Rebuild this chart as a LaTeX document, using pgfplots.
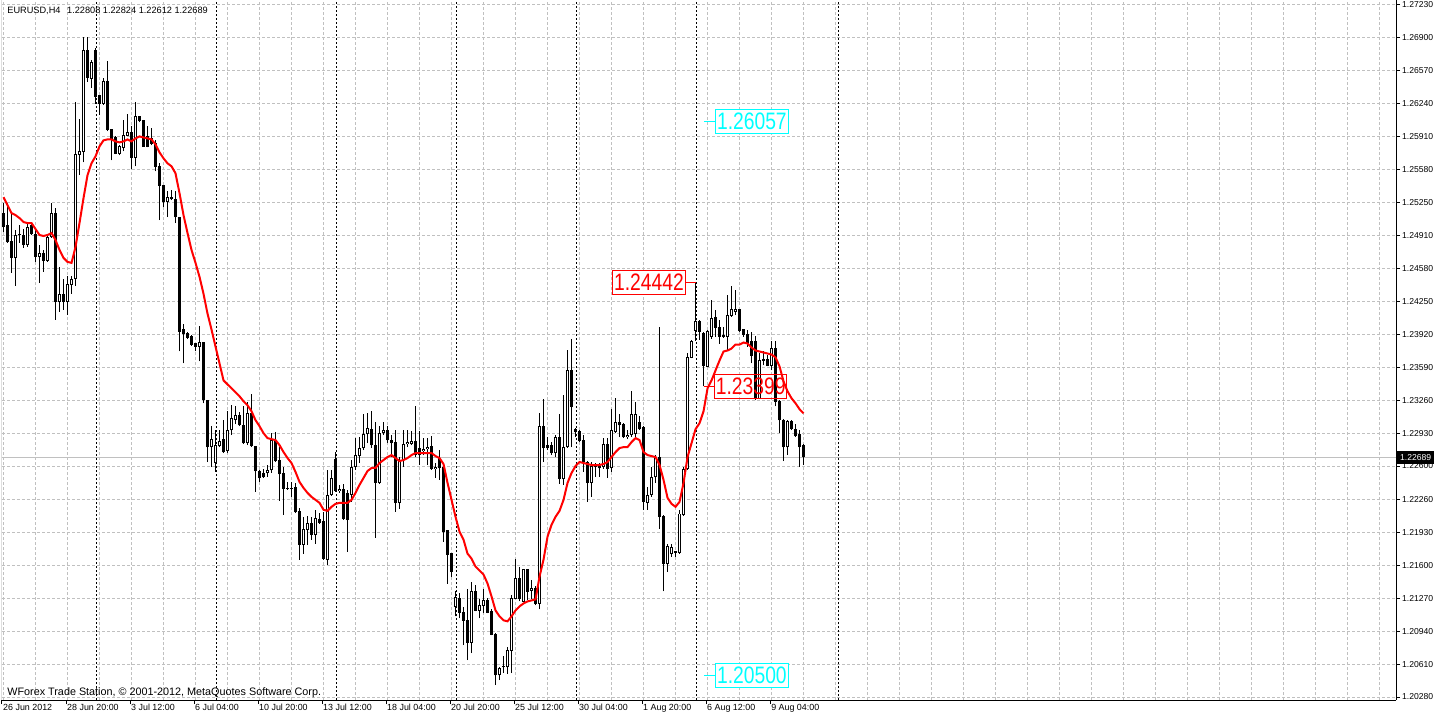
\documentclass[border=0pt]{standalone}
\usepackage{fontspec}
\setmainfont{Liberation Sans}
\usepackage{graphicx}
\usepackage{pgfplots}
\usepackage{pgfplotstable}
\pgfplotsset{compat=1.18}
\definecolor{gridgray}{HTML}{C0C0C0}
\definecolor{mtcyan}{HTML}{00FFFF}
\definecolor{mtred}{HTML}{FF0000}

\pgfplotstableread{
i o h l c
0 1.2514 1.2524 1.2495 1.2500
1 1.2502 1.2524 1.2484 1.2485
2 1.2486 1.2515 1.2454 1.2469
3 1.2469 1.2497 1.2441 1.2492
4 1.2493 1.2502 1.2484 1.2492
5 1.2492 1.2498 1.2479 1.2482
6 1.2482 1.2505 1.2480 1.2500
7 1.2502 1.2505 1.2492 1.2493
8 1.2493 1.2497 1.2465 1.2470
9 1.2470 1.2482 1.2444 1.2474
10 1.2474 1.2477 1.2455 1.2466
11 1.2466 1.2492 1.2465 1.2490
12 1.2490 1.2524 1.2489 1.2514
13 1.2514 1.2519 1.2407 1.2425
14 1.2425 1.2460 1.2415 1.2432
15 1.2432 1.2448 1.2417 1.2425
16 1.2425 1.2451 1.2412 1.2442
17 1.2442 1.2451 1.2433 1.2448
18 1.2448 1.2626 1.2441 1.2573
19 1.2573 1.2608 1.2552 1.2576
20 1.2576 1.2691 1.2565 1.2677
21 1.2677 1.2691 1.2646 1.2650
22 1.2649 1.2668 1.2640 1.2665
23 1.2677 1.2680 1.2624 1.2631
24 1.2632 1.2633 1.2613 1.2624
25 1.2624 1.2650 1.2623 1.2646
26 1.2646 1.2667 1.2596 1.2598
27 1.2598 1.2598 1.2567 1.2589
28 1.2590 1.2591 1.2573 1.2574
29 1.2574 1.2582 1.2572 1.2581
30 1.2580 1.2607 1.2576 1.2592
31 1.2592 1.2614 1.2591 1.2595
32 1.2595 1.2601 1.2558 1.2570
33 1.2570 1.2626 1.2561 1.2611
34 1.2611 1.2612 1.2605 1.2607
35 1.2607 1.2607 1.2581 1.2581
36 1.2591 1.2601 1.2580 1.2581
37 1.2589 1.2599 1.2582 1.2584
38 1.2584 1.2587 1.2556 1.2561
39 1.2561 1.2564 1.2507 1.2542
40 1.2542 1.2542 1.2520 1.2525
41 1.2525 1.2536 1.2510 1.2530
42 1.2530 1.2537 1.2527 1.2528
43 1.2528 1.2536 1.2504 1.2510
44 1.2510 1.2510 1.2375 1.2395
45 1.2397 1.2403 1.2363 1.2393
46 1.2393 1.2395 1.2388 1.2389
47 1.2390 1.2392 1.2381 1.2382
48 1.2383 1.2384 1.2375 1.2380
49 1.2380 1.2401 1.2365 1.2384
50 1.2384 1.2384 1.2323 1.2327
51 1.2326 1.2326 1.2264 1.2279
52 1.2279 1.2300 1.2259 1.2287
53 1.2263 1.2296 1.2254 1.2281
54 1.2280 1.2296 1.2279 1.2285
55 1.2287 1.2306 1.2273 1.2274
56 1.2275 1.2315 1.2273 1.2296
57 1.2296 1.2321 1.2291 1.2308
58 1.2307 1.2320 1.2302 1.2311
59 1.2311 1.2314 1.2300 1.2301
60 1.2301 1.2320 1.2282 1.2283
61 1.2283 1.2324 1.2281 1.2313
62 1.2313 1.2332 1.2279 1.2280
63 1.2280 1.2280 1.2234 1.2255
64 1.2255 1.2256 1.2244 1.2248
65 1.2253 1.2257 1.2248 1.2249
66 1.2253 1.2261 1.2249 1.2256
67 1.2256 1.2293 1.2253 1.2286
68 1.2285 1.2294 1.2264 1.2265
69 1.2266 1.2279 1.2225 1.2252
70 1.2253 1.2259 1.2211 1.2237
71 1.2238 1.2244 1.2236 1.2238
72 1.2238 1.2244 1.2229 1.2237
73 1.2239 1.2243 1.2213 1.2214
74 1.2215 1.2218 1.2166 1.2181
75 1.2181 1.2209 1.2172 1.2196
76 1.2196 1.2210 1.2181 1.2202
77 1.2202 1.2209 1.2186 1.2191
78 1.2191 1.2216 1.2182 1.2207
79 1.2206 1.2213 1.2202 1.2203
80 1.2204 1.2214 1.2166 1.2167
81 1.2166 1.2256 1.2161 1.2231
82 1.2231 1.2256 1.2230 1.2248
83 1.2267 1.2274 1.2234 1.2235
84 1.2235 1.2241 1.2233 1.2237
85 1.2237 1.2242 1.2206 1.2207
86 1.2233 1.2236 1.2174 1.2206
87 1.2231 1.2266 1.2224 1.2259
88 1.2259 1.2288 1.2256 1.2271
89 1.2270 1.2289 1.2263 1.2278
90 1.2278 1.2312 1.2276 1.2292
91 1.2292 1.2313 1.2283 1.2298
92 1.2297 1.2315 1.2278 1.2281
93 1.2281 1.2304 1.2188 1.2243
94 1.2243 1.2300 1.2242 1.2293
95 1.2293 1.2304 1.2291 1.2296
96 1.2296 1.2300 1.2283 1.2286
97 1.2286 1.2291 1.2269 1.2283
98 1.2284 1.2296 1.2214 1.2223
99 1.2223 1.2269 1.2217 1.2266
100 1.2266 1.2296 1.2259 1.2282
101 1.2282 1.2296 1.2279 1.2284
102 1.2282 1.2295 1.2281 1.2285
103 1.2285 1.2320 1.2269 1.2271
104 1.2278 1.2295 1.2261 1.2271
105 1.2275 1.2288 1.2271 1.2277
106 1.2277 1.2288 1.2261 1.2279
107 1.2280 1.2290 1.2256 1.2257
108 1.2257 1.2263 1.2248 1.2259
109 1.2268 1.2276 1.2246 1.2258
110 1.2259 1.2259 1.2184 1.2194
111 1.2195 1.2196 1.2142 1.2171
112 1.2172 1.2172 1.2149 1.2154
113 1.2119 1.2134 1.2109 1.2128
114 1.2127 1.2132 1.2107 1.2113
115 1.2113 1.2118 1.2080 1.2105
116 1.2105 1.2136 1.2065 1.2083
117 1.2083 1.2144 1.2072 1.2134
118 1.2134 1.2140 1.2114 1.2115
119 1.2115 1.2126 1.2107 1.2120
120 1.2120 1.2136 1.2112 1.2125
121 1.2125 1.2127 1.2112 1.2113
122 1.2114 1.2116 1.2090 1.2091
123 1.2091 1.2092 1.2040 1.2050
124 1.2050 1.2058 1.2045 1.2057
125 1.2058 1.2069 1.2052 1.2059
126 1.2058 1.2078 1.2051 1.2075
127 1.2075 1.2130 1.2052 1.2127
128 1.2127 1.2167 1.2126 1.2147
129 1.2147 1.2159 1.2124 1.2127
130 1.2124 1.2157 1.2123 1.2156
131 1.2156 1.2157 1.2125 1.2134
132 1.2135 1.2146 1.2126 1.2137
133 1.2137 1.2139 1.2120 1.2122
134 1.2122 1.2313 1.2116 1.2300
135 1.2300 1.2327 1.2264 1.2278
136 1.2281 1.2289 1.2276 1.2278
137 1.2281 1.2284 1.2271 1.2273
138 1.2273 1.2291 1.2269 1.2289
139 1.2289 1.2312 1.2242 1.2247
140 1.2247 1.2331 1.2241 1.2279
141 1.2279 1.2377 1.2278 1.2356
142 1.2356 1.2388 1.2279 1.2320
143 1.2297 1.2298 1.2289 1.2294
144 1.2295 1.2296 1.2284 1.2285
145 1.2286 1.2291 1.2254 1.2264
146 1.2264 1.2265 1.2224 1.2243
147 1.2243 1.2264 1.2229 1.2260
148 1.2261 1.2263 1.2249 1.2259
149 1.2260 1.2263 1.2249 1.2258
150 1.2259 1.2288 1.2257 1.2282
151 1.2282 1.2288 1.2248 1.2257
152 1.2258 1.2317 1.2254 1.2296
153 1.2294 1.2328 1.2293 1.2304
154 1.2304 1.2312 1.2289 1.2301
155 1.2302 1.2303 1.2288 1.2289
156 1.2289 1.2296 1.2287 1.2291
157 1.2291 1.2335 1.2289 1.2312
158 1.2292 1.2324 1.2289 1.2312
159 1.2304 1.2310 1.2296 1.2297
160 1.2299 1.2300 1.2216 1.2224
161 1.2223 1.2239 1.2216 1.2231
162 1.2231 1.2259 1.2229 1.2249
163 1.2249 1.2271 1.2243 1.2269
164 1.2269 1.2400 1.2197 1.2209
165 1.2209 1.2211 1.2134 1.2162
166 1.2162 1.2182 1.2154 1.2179
167 1.2172 1.2182 1.2169 1.2178
168 1.2173 1.2175 1.2169 1.2174
169 1.2173 1.2216 1.2172 1.2212
170 1.2211 1.2259 1.2210 1.2257
171 1.2257 1.2373 1.2256 1.2369
172 1.2369 1.2387 1.2368 1.2385
173 1.2396 1.24442 1.2386 1.2405
174 1.2405 1.2407 1.2387 1.2395
175 1.2393 1.2395 1.23399 1.2361
176 1.2360 1.2397 1.2359 1.2395
177 1.2390 1.2427 1.2388 1.2408
178 1.2409 1.2417 1.2390 1.2399
179 1.2399 1.2407 1.2383 1.2390
180 1.2390 1.2400 1.2389 1.2391
181 1.2390 1.2432 1.2376 1.2411
182 1.2411 1.2441 1.2410 1.2417
183 1.2415 1.2437 1.2412 1.2417
184 1.2417 1.2418 1.2395 1.2396
185 1.2397 1.2398 1.2390 1.2392
186 1.2392 1.2397 1.2380 1.2383
187 1.2385 1.2395 1.2363 1.2371
188 1.2385 1.2391 1.2326 1.2328
189 1.2328 1.2373 1.2327 1.2366
190 1.2366 1.2375 1.2361 1.2367
191 1.2367 1.2371 1.2360 1.2361
192 1.2361 1.2386 1.2356 1.2378
193 1.2378 1.2386 1.2320 1.2325
194 1.2325 1.2326 1.2293 1.2306
195 1.2306 1.2307 1.2265 1.2279
196 1.2279 1.2306 1.2271 1.2305
197 1.2305 1.2306 1.2296 1.2297
198 1.2297 1.2302 1.2289 1.2290
199 1.2292 1.2296 1.2259 1.2279
200 1.22808 1.22824 1.22612 1.22689
}\candles

\pgfplotstableread{
i ma
0 1.2530
1 1.2522
2 1.2514
3 1.2512
4 1.2509
5 1.2505
6 1.2504
7 1.2504
8 1.2498
9 1.2492
10 1.2491
11 1.2492
12 1.2494
13 1.2487
14 1.2477
15 1.2469
16 1.2465
17 1.2464
18 1.2480
19 1.2504
20 1.2529
21 1.2552
22 1.2564
23 1.2571
24 1.2581
25 1.2587
26 1.2588
27 1.2588
28 1.2586
29 1.2585
30 1.2586
31 1.2588
32 1.2586
33 1.2589
34 1.2591
35 1.2590
36 1.2589
37 1.2588
38 1.2583
39 1.2575
40 1.2569
41 1.2564
42 1.2561
43 1.2554
44 1.2534
45 1.2512
46 1.2494
47 1.2477
48 1.2464
49 1.2450
50 1.2433
51 1.2413
52 1.2397
53 1.2380
54 1.2363
55 1.2346
56 1.2342
57 1.2338
58 1.2334
59 1.2330
60 1.2325
61 1.2321
62 1.2315
63 1.2306
64 1.2300
65 1.2293
66 1.2288
67 1.2287
68 1.2286
69 1.2281
70 1.2274
71 1.2268
72 1.2263
73 1.2254
74 1.2244
75 1.2238
76 1.2233
77 1.2229
78 1.2226
79 1.2223
80 1.2216
81 1.2215
82 1.2219
83 1.2222
84 1.2223
85 1.2223
86 1.2223
87 1.2226
88 1.2233
89 1.2241
90 1.2248
91 1.2255
92 1.2258
93 1.2258
94 1.2263
95 1.2266
96 1.2269
97 1.2271
98 1.2268
99 1.2265
100 1.2266
101 1.2268
102 1.2271
103 1.2273
104 1.2273
105 1.2273
106 1.2273
107 1.2273
108 1.2270
109 1.2268
110 1.2262
111 1.2243
112 1.2226
113 1.2209
114 1.2194
115 1.2186
116 1.2172
117 1.2167
118 1.2159
119 1.2155
120 1.2151
121 1.2142
122 1.2129
123 1.2115
124 1.2109
125 1.2105
126 1.2104
127 1.2109
128 1.2115
129 1.2119
130 1.2122
131 1.2124
132 1.2125
133 1.2126
134 1.2149
135 1.2166
136 1.2189
137 1.2201
138 1.2209
139 1.2215
140 1.2226
141 1.2243
142 1.2253
143 1.2260
144 1.2264
145 1.2263
146 1.2262
147 1.2261
148 1.2261
149 1.2261
150 1.2262
151 1.2264
152 1.2269
153 1.2274
154 1.2278
155 1.2279
156 1.2279
157 1.2284
158 1.2288
159 1.2286
160 1.2274
161 1.2271
162 1.2270
163 1.2269
164 1.2261
165 1.2246
166 1.2228
167 1.2222
168 1.2219
169 1.2224
170 1.2243
171 1.2269
172 1.2283
173 1.2297
174 1.2303
175 1.2315
176 1.2338
177 1.2346
178 1.2356
179 1.2366
180 1.2375
181 1.2376
182 1.2378
183 1.2382
184 1.2382
185 1.2384
186 1.2383
187 1.2379
188 1.2376
189 1.2375
190 1.2374
191 1.2373
192 1.2372
193 1.2369
194 1.2360
195 1.2345
196 1.2335
197 1.2328
198 1.2323
199 1.2317
200 1.2313
}\mavals

\begin{document}
\begin{tikzpicture}
\useasboundingbox (0,0) rectangle (717pt,359pt);
\begin{axis}[
  at={(1pt,9pt)}, anchor=south west,
  scale only axis, width=697pt, height=350pt,
  xmin=-0.375, xmax=348.125, ymin=1.2025, ymax=1.2728,
  axis x line*=bottom, axis y line*=right,
  axis line style={black, line width=0.5pt, -},
  tick align=outside, major tick length=2pt, minor tick length=0pt,
  every tick/.style={black, line width=0.5pt},
  xtick={-0.375,15.625,31.625,47.625,63.625,79.625,95.625,111.625,127.625,143.625,159.625,175.625,191.625},
  xticklabels={26 Jun 2012,28 Jun 20:00,3 Jul 12:00,6 Jul 04:00,10 Jul 20:00,13 Jul 12:00,18 Jul 04:00,20 Jul 20:00,25 Jul 12:00,30 Jul 04:00,1 Aug 20:00,6 Aug 12:00,9 Aug 04:00},
  minor xtick={0,8,...,344},
  xminorgrids, ymajorgrids,
  minor grid style={gridgray, dash pattern=on 1.5pt off 1pt, line width=0.5pt},
  major grid style={gridgray, dash pattern=on 1.5pt off 1pt, line width=0.5pt},
  ytick={1.2723,1.2690,1.2657,1.2624,1.2591,1.2558,1.2525,1.2491,1.2458,1.2425,1.2392,1.2359,1.2326,1.2293,1.2260,1.2226,1.2193,1.2160,1.2127,1.2094,1.2061,1.2028},
  yticklabels={1.27230,1.26900,1.26570,1.26240,1.25910,1.25580,1.25250,1.24910,1.24580,1.24250,1.23920,1.23590,1.23260,1.22930,1.22600,1.22260,1.21930,1.21600,1.21270,1.20940,1.20610,1.20280},
  extra x ticks={23.125,53.125,83.125,113.125,143.125,173.125,208.625},
  extra x tick labels={,,,,,,},
  extra x tick style={grid=major, major tick length=0pt, major grid style={black, dash pattern=on 1pt off 1pt, line width=0.5pt}},
  xticklabel style={font=\fontsize{4.45}{5}\selectfont, anchor=north west, inner sep=0pt, xshift=0.4pt},
  yticklabel style={font=\fontsize{4.3}{5}\selectfont, anchor=west, inner sep=0pt, xshift=0.8pt},
  clip=true,
]
% current price line
\addplot[forget plot, gridgray, line width=0.5pt, mark=none] coordinates {(-0.375,1.22689) (348.125,1.22689)};
% wicks
\addplot[forget plot, draw=none, mark=none,
  error bars/.cd, y dir=plus, y explicit, error mark=none,
  error bar style={draw=black, line width=0.5pt, solid}]
  table[x=i, y=l, y error expr=\thisrow{h}-\thisrow{l}] {\candles};
% bodies
\addplot[forget plot, draw=none, mark=none,
  error bars/.cd, y dir=plus, y explicit, error mark=none,
  error bar style={draw=black, line width=1.5pt, solid}]
  table[x=i, y expr={min(\thisrow{o},\thisrow{c})-0.00003}, y error expr={abs(\thisrow{c}-\thisrow{o})+0.00006}] {\candles};
% hollow bull bodies
\addplot[forget plot, draw=none, mark=none,
  error bars/.cd, y dir=plus, y explicit, error mark=none,
  error bar style={draw=white, line width=0.5pt, solid}]
  table[x=i, y expr={\thisrow{o}+0.00007}, y error expr={max(\thisrow{c}-\thisrow{o}-0.00014,0)}] {\candles};
% moving average
\addplot[mtred, line width=1pt, mark=none] table[x=i, y=ma] {\mavals};
% left border
\draw[black, line width=0.5pt] (rel axis cs:0,0) -- (rel axis cs:0,1);
% price labels
\draw[mtcyan, line width=0.5pt] (axis cs:175.1,1.26057) -- (axis cs:177.9,1.26057);
\node[draw=mtcyan, fill=white, text=mtcyan, anchor=west, line width=0.5pt, inner xsep=0.7pt, inner ysep=0pt, minimum height=12pt, font=\fontsize{11.9}{12}\selectfont] at (axis cs:177.9,1.26057) {\scalebox{0.81}[1]{1.26057}};
\draw[mtcyan, line width=0.5pt] (axis cs:175.1,1.20500) -- (axis cs:177.9,1.20500);
\node[draw=mtcyan, fill=white, text=mtcyan, anchor=west, line width=0.5pt, inner xsep=0.7pt, inner ysep=0pt, minimum height=12pt, font=\fontsize{11.9}{12}\selectfont] at (axis cs:177.9,1.20500) {\scalebox{0.81}[1]{1.20500}};
\draw[mtred, line width=0.5pt] (axis cs:170.55,1.24442) -- (axis cs:173,1.24442);
\node[draw=mtred, fill=white, text=mtred, anchor=east, line width=0.5pt, inner xsep=0.7pt, inner ysep=0pt, minimum height=12pt, font=\fontsize{11.9}{12}\selectfont] at (axis cs:170.55,1.24442) {\scalebox{0.81}[1]{1.24442}};
\draw[mtred, line width=0.5pt] (axis cs:175,1.23399) -- (axis cs:177.6,1.23399);
\node[draw=mtred, text=mtred, anchor=west, line width=0.5pt, inner xsep=0.7pt, inner ysep=0pt, minimum height=12pt, font=\fontsize{11.9}{12}\selectfont] at (axis cs:177.6,1.23399) {\scalebox{0.81}[1]{1.23399}};
\coordinate (cp) at (axis cs:348.125,1.22689);
\end{axis}
\node[fill=black, text=white, anchor=west, inner xsep=1.3pt, inner ysep=0pt, minimum height=6.5pt, font=\fontsize{4.3}{5}\selectfont] at ([xshift=0.5pt]cp) {1.22689};
\node[anchor=west, inner sep=0pt, font=\fontsize{4.6}{5}\selectfont] at (3.5pt,353.6pt) {EURUSD,H4\hspace{3.3pt}1.22808 1.22824 1.22612 1.22689};
\node[anchor=west, inner sep=0pt, font=\fontsize{5.4}{6}\selectfont] at (3.5pt,12.5pt) {WForex Trade Station, \textcopyright{} 2001-2012, MetaQuotes Software Corp.};
\end{tikzpicture}
\end{document}
